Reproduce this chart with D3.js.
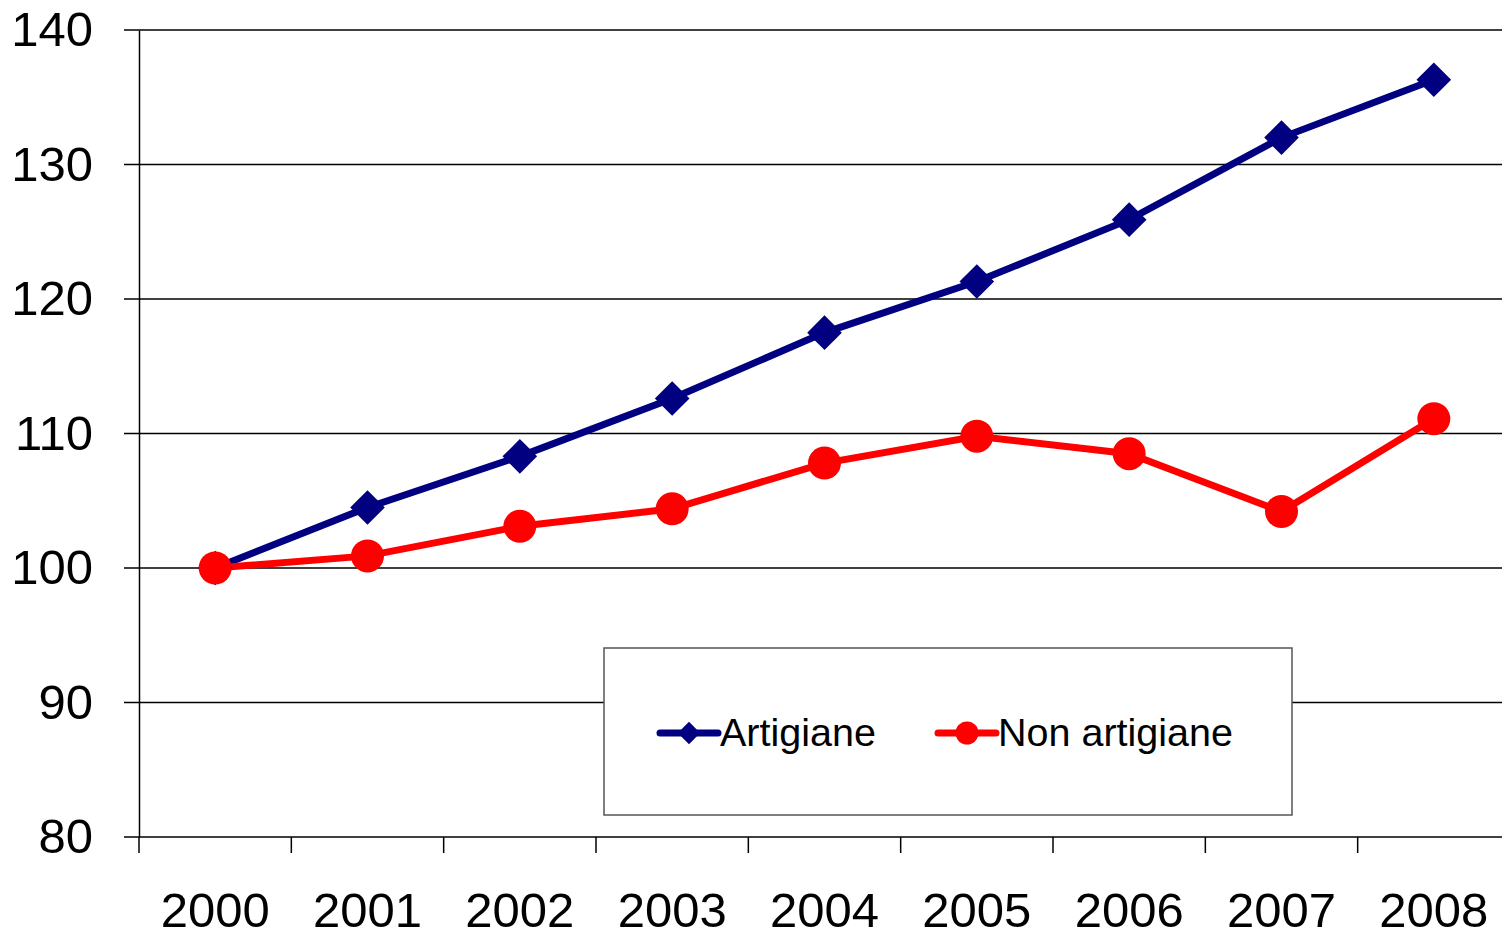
<!DOCTYPE html>
<html>
<head>
<meta charset="utf-8">
<script src="https://cdn.jsdelivr.net/npm/d3@7"></script>
<style>
    body { margin: 0; background: #fff; }
    svg { display: block; font-family: 'Liberation Sans', Arial, sans-serif; }
</style>
</head>
<body>
<div id="chart"></div>
<script>
const years = ['2000', '2001', '2002', '2003', '2004', '2005', '2006', '2007', '2008'];
const artigiane = [100, 104.5, 108.3, 112.6, 117.5, 121.3, 125.9, 132.0, 136.3];
const nonArtigiane = [100, 100.9, 103.1, 104.4, 107.8, 109.8, 108.5, 104.2, 111.1];
const yTicks = [80, 90, 100, 110, 120, 130, 140];
const seriesNames = ['Artigiane', 'Non artigiane'];

const outerWidth = 1502;
const outerHeight = 935;
const margin = { top: 30, left: 139, bottom: 98, right: -8 };
const innerWidth = outerWidth - margin.left - margin.right;
const innerHeight = outerHeight - margin.top - margin.bottom;

const xScale = d3.scaleBand()
    .domain(years)
    .range([0, innerWidth]);

const yScale = d3.scaleLinear()
    .domain([80, 140])
    .range([innerHeight, 0]);

const svg = d3.select('#chart')
    .append('svg')
        .attr('width', outerWidth)
        .attr('height', outerHeight)
    .append('g')
        .attr('transform', `translate(${margin.left},${margin.top})`);

// horizontal grid
svg.append('g')
    .selectAll('line')
    .data(yTicks)
    .join('line')
        .attr('x1', -15)
        .attr('x2', innerWidth)
        .attr('y1', d => yScale(d))
        .attr('y2', d => yScale(d))
        .attr('stroke', '#000')
        .attr('stroke-width', 1.3);

// y axis
const yAxis = d3.axisLeft(yScale)
    .tickValues(yTicks)
    .tickSize(0)
    .tickPadding(46);

svg.append('g')
    .call(yAxis)
    .call(g => g.select('.domain').attr('stroke', '#000').attr('stroke-width', 1.5))
    .call(g => g.selectAll('text')
        .attr('font-size', 49)
        .attr('fill', '#000')
        .attr('font-family', "'Liberation Sans', Arial, sans-serif"));

// x axis
const xTickPos = years.map(y => xScale(y));
svg.append('g')
    .attr('transform', `translate(0, ${innerHeight})`)
    .selectAll('line')
    .data(xTickPos)
    .join('line')
        .attr('x1', d => d)
        .attr('x2', d => d)
        .attr('y1', 0)
        .attr('y2', 16)
        .attr('stroke', '#000')
        .attr('stroke-width', 1.5);

svg.append('g')
    .selectAll('text')
    .data(years)
    .join('text')
        .attr('x', d => xScale(d) + xScale.bandwidth() / 2)
        .attr('y', innerHeight + 90)
        .attr('text-anchor', 'middle')
        .attr('font-size', 49)
        .text(d => d);

const cx = d => xScale(d) + xScale.bandwidth() / 2;

const lineGenerator = vals => d3.line()
    .x((d, i) => cx(years[i]))
    .y(d => yScale(d))(vals);

svg.append('path')
    .attr('d', lineGenerator(artigiane))
    .attr('fill', 'none')
    .attr('stroke', '#000080')
    .attr('stroke-width', 7);

svg.append('path')
    .attr('d', lineGenerator(nonArtigiane))
    .attr('fill', 'none')
    .attr('stroke', '#ff0000')
    .attr('stroke-width', 7);

const diamond = d3.symbol().type(d3.symbolSquare).size(600);

svg.append('g')
    .selectAll('path')
    .data(artigiane)
    .join('path')
        .attr('d', diamond)
        .attr('transform', (d, i) => `translate(${cx(years[i])},${yScale(d)}) rotate(45)`)
        .attr('fill', '#000080');

svg.append('g')
    .selectAll('circle')
    .data(nonArtigiane)
    .join('circle')
        .attr('cx', (d, i) => cx(years[i]))
        .attr('cy', d => yScale(d))
        .attr('r', 16.5)
        .attr('fill', '#ff0000');

// legend
const legend = svg.append('g')
    .attr('transform', `translate(${604 - margin.left},${648 - margin.top})`);

legend.append('rect')
    .attr('width', 688)
    .attr('height', 167)
    .attr('fill', '#fff')
    .attr('stroke', '#555')
    .attr('stroke-width', 1.5);

const legendItems = [
    { name: seriesNames[0], color: '#000080', x: 56, shape: 'diamond' },
    { name: seriesNames[1], color: '#ff0000', x: 334, shape: 'circle' }
];

legendItems.forEach(item => {
    const g = legend.append('g').attr('transform', `translate(${item.x}, 85)`);
    g.append('line')
        .attr('x1', 0)
        .attr('x2', 58)
        .attr('stroke', item.color)
        .attr('stroke-width', 7)
        .attr('stroke-linecap', 'round');
    if (item.shape === 'diamond') {
        g.append('path')
            .attr('d', d3.symbol().type(d3.symbolSquare).size(250)())
            .attr('transform', 'translate(29,0) rotate(45)')
            .attr('fill', item.color);
    } else {
        g.append('circle')
            .attr('cx', 29)
            .attr('r', 11.5)
            .attr('fill', item.color);
    }
    g.append('text')
        .attr('x', 60)
        .attr('y', 13)
        .attr('font-size', 39.5)
        .text(item.name);
});
</script>
</body>
</html>
